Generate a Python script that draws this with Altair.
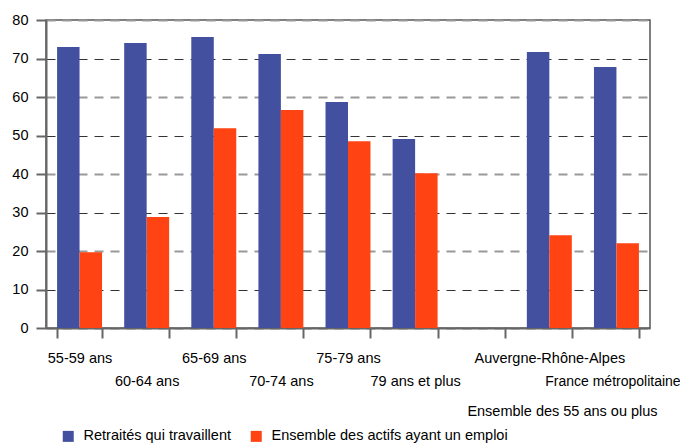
import altair as alt
import pandas as pd

categories = ["55-59 ans", "60-64 ans", "65-69 ans", "70-74 ans", "75-79 ans",
              "79 ans et plus", " ", "Auvergne-Rhône-Alpes", "France métropolitaine"]
value_categories = ["55-59 ans", "60-64 ans", "65-69 ans", "70-74 ans", "75-79 ans",
                    "79 ans et plus", "Auvergne-Rhône-Alpes", "France métropolitaine"]
retraites = [73.0, 74.0, 75.6, 71.2, 58.7, 49.1, 71.7, 67.8]
actifs = [19.7, 28.8, 51.9, 56.6, 48.5, 40.2, 24.1, 22.0]
series = ["Retraités qui travaillent", "Ensemble des actifs ayant un emploi"]
colors = ["#4350A0", "#FF4313"]
second_row = ["60-64 ans", "70-74 ans", "79 ans et plus", "France métropolitaine"]
group_title = "Ensemble des 55 ans ou plus"

rows = []
for c, a, b in zip(value_categories, retraites, actifs):
    rows.append({"cat": c, "serie": series[0], "val": a})
    rows.append({"cat": c, "serie": series[1], "val": b})
df = pd.DataFrame(rows)

FONT = "Liberation Sans, Arial, sans-serif"
FS = 14.5

row2_list = ",".join("'" + s + "'" for s in second_row)
label_expr = f"indexof([{row2_list}], datum.value) >= 0 ? ['', datum.value] : datum.value"
last_test = "datum.value == '" + categories[-1] + "'"

chart = alt.Chart(df).mark_bar().encode(
    x=alt.X("cat:N",
            scale=alt.Scale(domain=categories, paddingInner=0.33, paddingOuter=0.165),
            axis=alt.Axis(title=group_title, tickBand="extent", labelExpr=label_expr,
                          labelLineHeight=23, labelAngle=0, labelPadding=13,
                          tickSize=10, tickColor="#666", tickWidth=2,
                          domainColor="#666", domainWidth=2,
                          labelFont=FONT, labelColor="#000",
                          labelFontSize={"condition": {"test": last_test, "value": 14}, "value": FS},
                          labelOffset={"condition": {"test": last_test, "value": -4}, "value": 0},
                          labelOverlap=False, labelBound=False, labelFlush=False,
                          labelBaseline="top", labelLimit=0,
                          titleFont=FONT, titleFontSize=FS, titleFontWeight="normal",
                          titleColor="#000", titleX=516, titleY=83,
                          titleAlign="center", titleBaseline="middle",
                          grid=False)),
    xOffset=alt.XOffset("serie:N", scale=alt.Scale(domain=series, paddingInner=0, paddingOuter=0)),
    y=alt.Y("val:Q",
            scale=alt.Scale(domain=[0, 80]),
            axis=alt.Axis(title=None, values=list(range(0, 81, 10)),
                          tickSize=10, tickColor="#666", tickWidth=2,
                          domainColor="#666", domainWidth=2,
                          labelFont=FONT, labelFontSize=FS, labelColor="#000",
                          labelPadding=8,
                          grid=True, gridDash=[9, 7],
                          gridColor={"condition": {"test": "datum.value % 20 == 0", "value": "#999"}, "value": "#333"},
                          gridWidth={"condition": {"test": "datum.value % 20 == 0", "value": 2}, "value": 1})),
    color=alt.Color("serie:N",
                    scale=alt.Scale(domain=series, range=colors),
                    legend=alt.Legend(title=None, orient="none", legendX=15, legendY=409,
                                      direction="horizontal", symbolType="square",
                                      symbolSize=121, symbolStrokeWidth=0,
                                      labelFont=FONT, labelFontSize=FS, labelColor="#000",
                                      labelLimit=0,
                                      labelOffset=8, columnPadding=18)),
).properties(
    width=604, height=308,
    padding={"left": 38, "top": 12, "right": 30, "bottom": 116},
    autosize=alt.AutoSizeParams(type="none"),
).configure_view(stroke="#555", strokeWidth=1.5)

chart.save("out.html", embed_options={"renderer": "svg", "actions": False})
